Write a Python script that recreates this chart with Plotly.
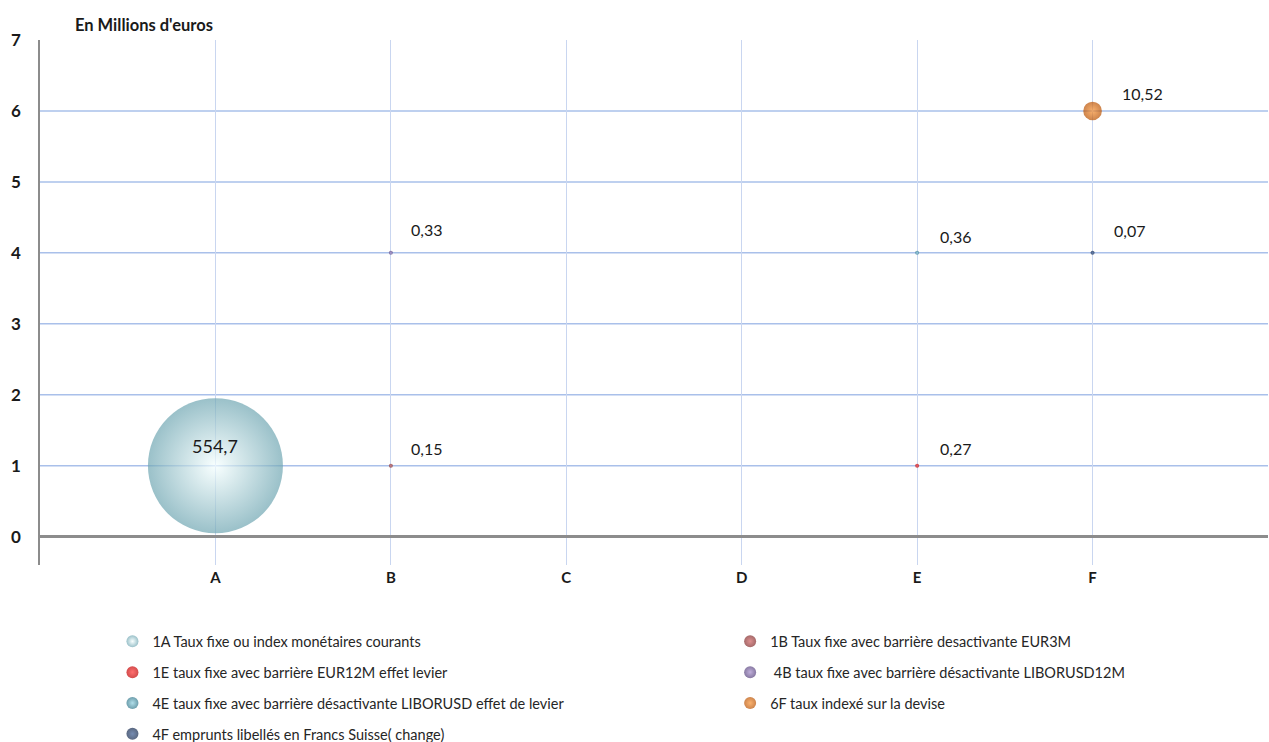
import plotly.graph_objects as go

# categories on the horizontal axis, rows on the vertical axis
categories = ["A", "B", "C", "D", "E", "F"]
y_ticks = [0, 1, 2, 3, 4, 5, 6, 7]
grid_rows = [1, 2, 3, 4, 5, 6]

# one bubble per series (legend order: left column then right column)
series_names = [
    "1A Taux fixe ou index monétaires courants",
    "1E taux fixe avec barrière EUR12M effet levier",
    "4E taux fixe avec barrière désactivante LIBORUSD effet de levier",
    "4F emprunts libellés en Francs Suisse( change)",
    "1B Taux fixe avec barrière desactivante EUR3M",
    " 4B taux fixe avec barrière désactivante LIBORUSD12M",
    "6F taux indexé sur la devise",
]
series_cat = ["A", "E", "E", "F", "B", "B", "F"]
series_row = [1, 1, 4, 4, 1, 4, 6]
series_values = [554.7, 0.27, 0.36, 0.07, 0.15, 0.33, 10.52]

# styling
edge_colors = ["#6FA6B2", "#C00000", "#2E7488", "#14284B", "#7E2A2A", "#54407A", "#B85000"]
center_colors = ["#F5FFFF", "#FF3030", "#8FD0E0", "#3A5A90", "#D06060", "#A58CCB", "#F89030"]
legend_ids = ["legend", "legend", "legend", "legend", "legend2", "legend2", "legend2"]
label_shift = [(0, 20), (38, 17), (38, 16), (37, 22), (36, 17), (36, 23), (50, 17)]
label_size = [18, 16, 16, 16, 16, 16, 16]

FONT = "Lato"
max_px = 135
sizeref = 2.0 * max(series_values) / (max_px ** 2)

fig = go.Figure()
for i, name in enumerate(series_names):
    xi = categories.index(series_cat[i]) + 1
    fig.add_trace(go.Scatter(
        x=[xi], y=[series_row[i]], mode="markers", name=name,
        legend=legend_ids[i], legendgroup=name,
        marker=dict(size=[series_values[i]], sizemode="area", sizeref=sizeref, sizemin=2,
                    color=edge_colors[i], line=dict(width=0),
                    gradient=dict(type="radial", color=center_colors[i])),
        hovertemplate=f"{series_cat[i]}: %{{y}}<br>{series_values[i]:g} M€<extra>{name}</extra>",
    ))
    fig.add_annotation(
        x=xi, y=series_row[i], text=f"{series_values[i]:g}".replace(".", ","),
        showarrow=False, xshift=label_shift[i][0], yshift=label_shift[i][1],
        font=dict(family=FONT, size=label_size[i], color="#1a1a1a"),
    )

for r in grid_rows:
    fig.add_shape(type="line", xref="paper", x0=0, x1=1, y0=r, y1=r,
                  line=dict(color="#A9C0EA", width=1.5), layer="below")

fig.add_annotation(
    xref="paper", yref="paper", x=0.027, y=1.029, xanchor="left", yanchor="middle",
    text="En Millions d'euros", showarrow=False,
    font=dict(family=FONT, size=16.5, color="#1a1a1a", weight="bold"),
)

legend_style = dict(yanchor="top", xanchor="left", orientation="v", y=-0.115,
                    tracegroupgap=9, itemsizing="constant", itemwidth=30,
                    bgcolor="rgba(0,0,0,0)",
                    font=dict(family=FONT, size=14.5, color="#262626"))

fig.update_layout(
    width=1269, height=742,
    margin=dict(l=40, r=1, t=40, b=177, autoexpand=False),
    plot_bgcolor="white", paper_bgcolor="white",
    font=dict(family=FONT, color="#1a1a1a"),
    xaxis=dict(range=[0, 7], tickvals=list(range(1, len(categories) + 1)), ticktext=categories,
               showgrid=True, gridcolor="#C9D6F0", gridwidth=1, zeroline=False, showline=False,
               automargin=False,
               tickfont=dict(family=FONT, size=15, color="#1a1a1a", weight="bold"),
               ticklabelstandoff=2),
    yaxis=dict(range=[-0.4, 7], tickvals=y_ticks, showgrid=False, automargin=False,
               zeroline=True, zerolinecolor="#8C8C8C", zerolinewidth=2.5,
               showline=True, linecolor="#8C8C8C", linewidth=1.5,
               tickfont=dict(family=FONT, size=17, color="#1a1a1a", weight="bold"),
               ticklabelstandoff=14),
    legend=dict(x=0.059, **legend_style),
    legend2=dict(x=0.562, **legend_style),
    showlegend=True,
)

fig.write_html("out.html", config={"displayModeBar": False},
               post_script="document.body.style.margin='0px';")
